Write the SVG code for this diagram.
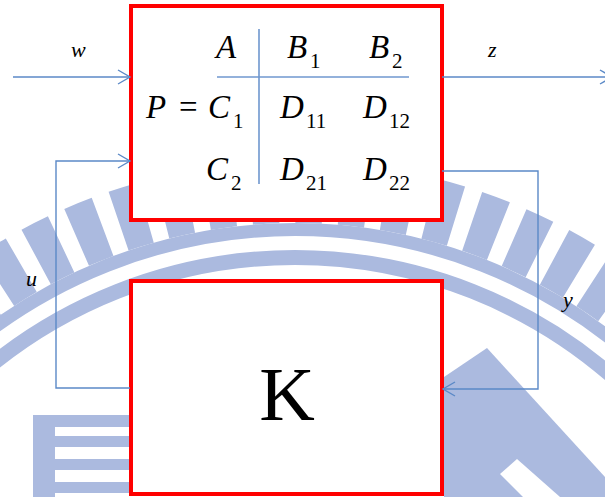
<svg xmlns="http://www.w3.org/2000/svg" width="605" height="497" viewBox="0 0 605 497">
<style>
.wm{fill:#abbadf}
.wms{fill:none;stroke:#abbadf}
.box{fill:#ffffff;stroke:#ff0000;stroke-width:4}
.conn{fill:none;stroke:#5b89c7;stroke-width:1.4}
.mx{fill:none;stroke:#6f97cf;stroke-width:1.6}
.t{font-family:"Liberation Serif","Times New Roman",serif;fill:#000000}
.i{font-style:italic}
.big{font-size:33px}
.sub{font-size:21px}
.lbl{font-size:22px;font-style:italic}
</style>
<defs>
<marker id="arr" markerUnits="userSpaceOnUse" markerWidth="16" markerHeight="16" viewBox="0 0 16 16" refX="13" refY="8" orient="auto">
<path d="M1,1 L13,8 L1,15" fill="none" stroke="#5b89c7" stroke-width="1.4"/>
</marker>
</defs>
<rect width="605" height="497" fill="#ffffff"/>
<g id="watermark">
<circle cx="295" cy="740" r="510.5" class="wms" stroke-width="13"/>
<circle cx="295" cy="740" r="482.5" class="wms" stroke-width="15"/>
<path d="M -253 740 A 548 548 0 0 1 843 740" class="wms" stroke-width="62" stroke-dasharray="28 17" stroke-dashoffset="38.9"/>
<rect x="33" y="415" width="100" height="82" class="wm"/>
<rect x="55" y="427" width="80" height="9" fill="#ffffff"/>
<rect x="55" y="447" width="80" height="12" fill="#ffffff"/>
<rect x="55" y="470" width="80" height="12" fill="#ffffff"/>
<rect x="55" y="493" width="80" height="4" fill="#ffffff"/>
<polygon points="487,348 605,477 605,497 444,497 444,377" class="wm"/>
<polygon points="500,474 517,459 560,497 523,497" fill="#ffffff"/>
</g>
<g id="P">
<rect x="131" y="6" width="311" height="214" class="box"/>
<line x1="259" y1="29" x2="259" y2="184" class="mx"/>
<line x1="217" y1="77" x2="409" y2="77" class="mx"/>
<text class="t i big" x="216" y="58">A</text>
<text class="t i big" x="287" y="58">B</text>
<text class="t sub" x="310" y="68">1</text>
<text class="t i big" x="369" y="58">B</text>
<text class="t sub" x="392" y="68">2</text>
<text class="t i big" x="146" y="118">P</text>
<text class="t big" x="179" y="118">=</text>
<text class="t i big" x="208" y="118">C</text>
<text class="t sub" x="233" y="128">1</text>
<text class="t i big" x="280" y="118">D</text>
<text class="t sub" x="306" y="128">11</text>
<text class="t i big" x="363" y="118">D</text>
<text class="t sub" x="389" y="128">12</text>
<text class="t i big" x="206" y="180">C</text>
<text class="t sub" x="231" y="190">2</text>
<text class="t i big" x="280" y="180">D</text>
<text class="t sub" x="306" y="190">21</text>
<text class="t i big" x="363" y="180">D</text>
<text class="t sub" x="389" y="190">22</text>
</g>
<g id="K">
<rect x="131" y="281" width="311" height="213" class="box"/>
<text class="t" x="287" y="420" font-size="77" text-anchor="middle">K</text>
</g>
<g id="connectors">
<line x1="13" y1="77" x2="130" y2="77" class="conn" marker-end="url(#arr)"/>
<line x1="442" y1="77" x2="612" y2="77" class="conn" marker-end="url(#arr)"/>
<polyline points="130,388 56,388 56,161 130,161" class="conn" marker-end="url(#arr)"/>
<polyline points="442,171 538,171 538,389 443,389" class="conn" marker-end="url(#arr)"/>
</g>
<g id="labels">
<text class="t lbl" x="71" y="57">w</text>
<text class="t lbl" x="488" y="57">z</text>
<text class="t lbl" x="26" y="286">u</text>
<text class="t lbl" x="563" y="307">y</text>
</g>
</svg>
